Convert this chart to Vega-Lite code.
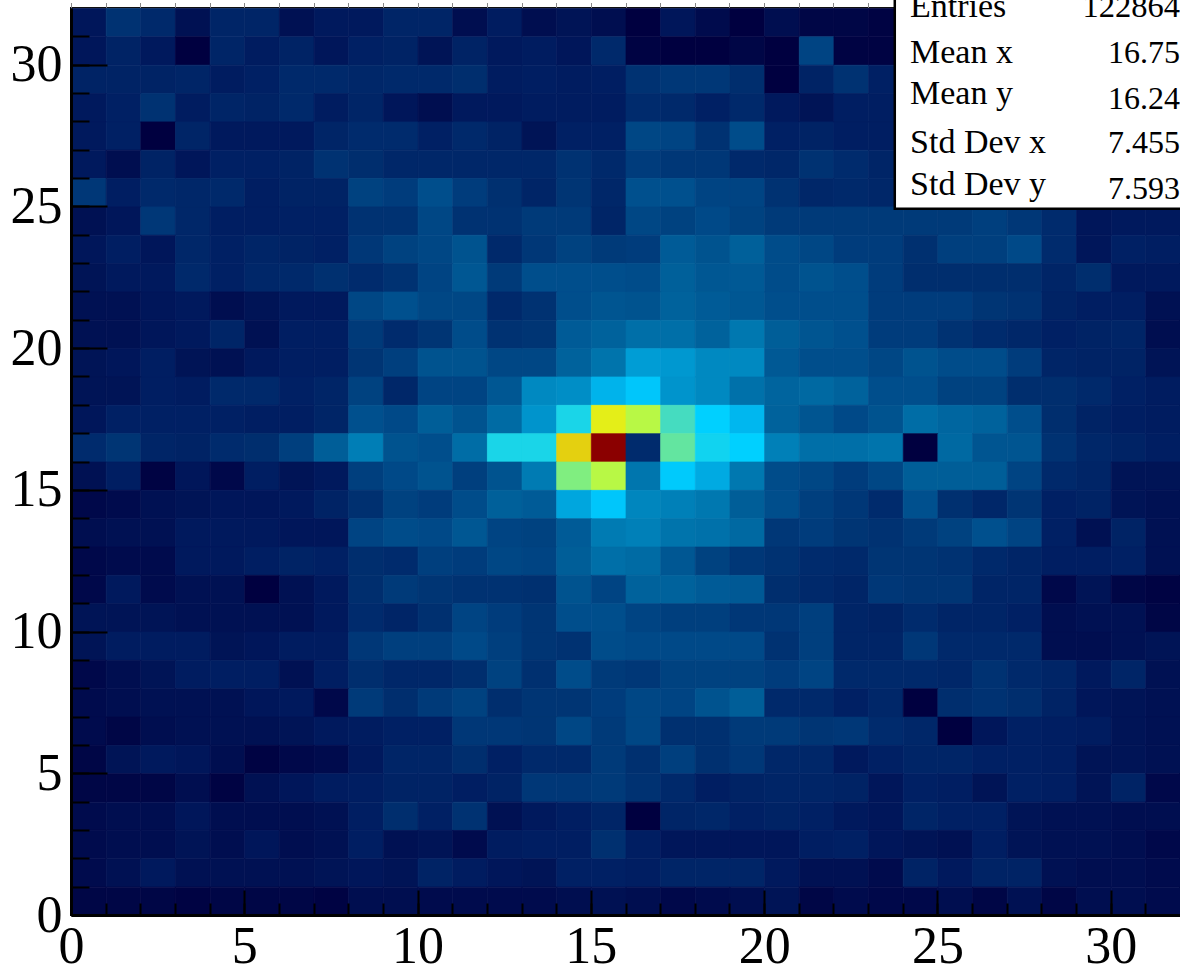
{"$schema":"https://vega.github.io/schema/vega-lite/v6.json","width":1109,"height":907,"autosize":{"type":"none"},"padding":{"left":71,"top":8,"right":0,"bottom":55},"background":"white","view":{"stroke":"#111","strokeWidth":2},
"datasets":{"cells":[
{"x":0,"y":31,"v":8},{"x":1,"y":31,"v":20},{"x":2,"y":31,"v":16},{"x":3,"y":31,"v":6},{"x":4,"y":31,"v":14},{"x":5,"y":31,"v":14},{"x":6,"y":31,"v":6},{"x":7,"y":31,"v":9},{"x":8,"y":31,"v":9},{"x":9,"y":31,"v":14},{"x":10,"y":31,"v":14},{"x":11,"y":31,"v":5},{"x":12,"y":31,"v":10},{"x":13,"y":31,"v":5},{"x":14,"y":31,"v":7},{"x":15,"y":31,"v":5},{"x":16,"y":31,"v":0},{"x":17,"y":31,"v":8},{"x":18,"y":31,"v":4},{"x":19,"y":31,"v":0},{"x":20,"y":31,"v":5},{"x":21,"y":31,"v":2},{"x":22,"y":31,"v":2},{"x":23,"y":31,"v":1},
{"x":0,"y":30,"v":8},{"x":1,"y":30,"v":13},{"x":2,"y":30,"v":9},{"x":3,"y":30,"v":0},{"x":4,"y":30,"v":14},{"x":5,"y":30,"v":10},{"x":6,"y":30,"v":13},{"x":7,"y":30,"v":8},{"x":8,"y":30,"v":12},{"x":9,"y":30,"v":13},{"x":10,"y":30,"v":7},{"x":11,"y":30,"v":13},{"x":12,"y":30,"v":9},{"x":13,"y":30,"v":10},{"x":14,"y":30,"v":8},{"x":15,"y":30,"v":16},{"x":16,"y":30,"v":1},{"x":17,"y":30,"v":0},{"x":18,"y":30,"v":0},{"x":19,"y":30,"v":2},{"x":20,"y":30,"v":0},{"x":21,"y":30,"v":27},{"x":22,"y":30,"v":1},{"x":23,"y":30,"v":1},
{"x":0,"y":29,"v":13},{"x":1,"y":29,"v":13},{"x":2,"y":29,"v":13},{"x":3,"y":29,"v":14},{"x":4,"y":29,"v":10},{"x":5,"y":29,"v":12},{"x":6,"y":29,"v":16},{"x":7,"y":29,"v":16},{"x":8,"y":29,"v":15},{"x":9,"y":29,"v":16},{"x":10,"y":29,"v":16},{"x":11,"y":29,"v":18},{"x":12,"y":29,"v":10},{"x":13,"y":29,"v":11},{"x":14,"y":29,"v":10},{"x":15,"y":29,"v":11},{"x":16,"y":29,"v":20},{"x":17,"y":29,"v":22},{"x":18,"y":29,"v":22},{"x":19,"y":29,"v":18},{"x":20,"y":29,"v":0},{"x":21,"y":29,"v":13},{"x":22,"y":29,"v":20},{"x":23,"y":29,"v":12},
{"x":0,"y":28,"v":9},{"x":1,"y":28,"v":12},{"x":2,"y":28,"v":20},{"x":3,"y":28,"v":10},{"x":4,"y":28,"v":14},{"x":5,"y":28,"v":13},{"x":6,"y":28,"v":16},{"x":7,"y":28,"v":10},{"x":8,"y":28,"v":14},{"x":9,"y":28,"v":8},{"x":10,"y":28,"v":5},{"x":11,"y":28,"v":9},{"x":12,"y":28,"v":9},{"x":13,"y":28,"v":10},{"x":14,"y":28,"v":10},{"x":15,"y":28,"v":10},{"x":16,"y":28,"v":17},{"x":17,"y":28,"v":16},{"x":18,"y":28,"v":12},{"x":19,"y":28,"v":16},{"x":20,"y":28,"v":9},{"x":21,"y":28,"v":7},{"x":22,"y":28,"v":11},{"x":23,"y":28,"v":11},
{"x":0,"y":27,"v":9},{"x":1,"y":27,"v":12},{"x":2,"y":27,"v":0},{"x":3,"y":27,"v":14},{"x":4,"y":27,"v":9},{"x":5,"y":27,"v":9},{"x":6,"y":27,"v":9},{"x":7,"y":27,"v":14},{"x":8,"y":27,"v":17},{"x":9,"y":27,"v":17},{"x":10,"y":27,"v":12},{"x":11,"y":27,"v":16},{"x":12,"y":27,"v":13},{"x":13,"y":27,"v":7},{"x":14,"y":27,"v":12},{"x":15,"y":27,"v":12},{"x":16,"y":27,"v":28},{"x":17,"y":27,"v":27},{"x":18,"y":27,"v":20},{"x":19,"y":27,"v":30},{"x":20,"y":27,"v":12},{"x":21,"y":27,"v":13},{"x":22,"y":27,"v":11},{"x":23,"y":27,"v":11},
{"x":0,"y":26,"v":9},{"x":1,"y":26,"v":5},{"x":2,"y":26,"v":13},{"x":3,"y":26,"v":8},{"x":4,"y":26,"v":12},{"x":5,"y":26,"v":12},{"x":6,"y":26,"v":13},{"x":7,"y":26,"v":20},{"x":8,"y":26,"v":18},{"x":9,"y":26,"v":15},{"x":10,"y":26,"v":15},{"x":11,"y":26,"v":15},{"x":12,"y":26,"v":15},{"x":13,"y":26,"v":15},{"x":14,"y":26,"v":20},{"x":15,"y":26,"v":16},{"x":16,"y":26,"v":24},{"x":17,"y":26,"v":22},{"x":18,"y":26,"v":22},{"x":19,"y":26,"v":16},{"x":20,"y":26,"v":15},{"x":21,"y":26,"v":20},{"x":22,"y":26,"v":17},{"x":23,"y":26,"v":14},
{"x":0,"y":25,"v":22},{"x":1,"y":25,"v":11},{"x":2,"y":25,"v":16},{"x":3,"y":25,"v":15},{"x":4,"y":25,"v":16},{"x":5,"y":25,"v":11},{"x":6,"y":25,"v":13},{"x":7,"y":25,"v":13},{"x":8,"y":25,"v":26},{"x":9,"y":25,"v":24},{"x":10,"y":25,"v":31},{"x":11,"y":25,"v":24},{"x":12,"y":25,"v":19},{"x":13,"y":25,"v":14},{"x":14,"y":25,"v":21},{"x":15,"y":25,"v":15},{"x":16,"y":25,"v":32},{"x":17,"y":25,"v":32},{"x":18,"y":25,"v":27},{"x":19,"y":25,"v":27},{"x":20,"y":25,"v":20},{"x":21,"y":25,"v":15},{"x":22,"y":25,"v":16},{"x":23,"y":25,"v":15},
{"x":0,"y":24,"v":6},{"x":1,"y":24,"v":8},{"x":2,"y":24,"v":22},{"x":3,"y":24,"v":15},{"x":4,"y":24,"v":11},{"x":5,"y":24,"v":11},{"x":6,"y":24,"v":12},{"x":7,"y":24,"v":12},{"x":8,"y":24,"v":20},{"x":9,"y":24,"v":20},{"x":10,"y":24,"v":28},{"x":11,"y":24,"v":20},{"x":12,"y":24,"v":20},{"x":13,"y":24,"v":23},{"x":14,"y":24,"v":23},{"x":15,"y":24,"v":14},{"x":16,"y":24,"v":28},{"x":17,"y":24,"v":26},{"x":18,"y":24,"v":29},{"x":19,"y":24,"v":26},{"x":20,"y":24,"v":23},{"x":21,"y":24,"v":23},{"x":22,"y":24,"v":23},{"x":23,"y":24,"v":23},{"x":24,"y":24,"v":23},{"x":25,"y":24,"v":23},{"x":26,"y":24,"v":25},{"x":27,"y":24,"v":22},{"x":28,"y":24,"v":17},{"x":29,"y":24,"v":8},{"x":30,"y":24,"v":9},{"x":31,"y":24,"v":9},
{"x":0,"y":23,"v":8},{"x":1,"y":23,"v":11},{"x":2,"y":23,"v":8},{"x":3,"y":23,"v":15},{"x":4,"y":23,"v":12},{"x":5,"y":23,"v":14},{"x":6,"y":23,"v":13},{"x":7,"y":23,"v":12},{"x":8,"y":23,"v":22},{"x":9,"y":23,"v":26},{"x":10,"y":23,"v":28},{"x":11,"y":23,"v":33},{"x":12,"y":23,"v":16},{"x":13,"y":23,"v":22},{"x":14,"y":23,"v":26},{"x":15,"y":23,"v":23},{"x":16,"y":23,"v":24},{"x":17,"y":23,"v":37},{"x":18,"y":23,"v":33},{"x":19,"y":23,"v":39},{"x":20,"y":23,"v":30},{"x":21,"y":23,"v":28},{"x":22,"y":23,"v":24},{"x":23,"y":23,"v":24},{"x":24,"y":23,"v":19},{"x":25,"y":23,"v":25},{"x":26,"y":23,"v":25},{"x":27,"y":23,"v":29},{"x":28,"y":23,"v":17},{"x":29,"y":23,"v":8},{"x":30,"y":23,"v":12},{"x":31,"y":23,"v":11},
{"x":0,"y":22,"v":7},{"x":1,"y":22,"v":9},{"x":2,"y":22,"v":9},{"x":3,"y":22,"v":16},{"x":4,"y":22,"v":12},{"x":5,"y":22,"v":15},{"x":6,"y":22,"v":16},{"x":7,"y":22,"v":19},{"x":8,"y":22,"v":17},{"x":9,"y":22,"v":20},{"x":10,"y":22,"v":27},{"x":11,"y":22,"v":35},{"x":12,"y":22,"v":23},{"x":13,"y":22,"v":31},{"x":14,"y":22,"v":31},{"x":15,"y":22,"v":31},{"x":16,"y":22,"v":30},{"x":17,"y":22,"v":39},{"x":18,"y":22,"v":35},{"x":19,"y":22,"v":36},{"x":20,"y":22,"v":30},{"x":21,"y":22,"v":33},{"x":22,"y":22,"v":31},{"x":23,"y":22,"v":24},{"x":24,"y":22,"v":18},{"x":25,"y":22,"v":18},{"x":26,"y":22,"v":18},{"x":27,"y":22,"v":18},{"x":28,"y":22,"v":14},{"x":29,"y":22,"v":18},{"x":30,"y":22,"v":9},{"x":31,"y":22,"v":9},
{"x":0,"y":21,"v":6},{"x":1,"y":21,"v":6},{"x":2,"y":21,"v":8},{"x":3,"y":21,"v":9},{"x":4,"y":21,"v":5},{"x":5,"y":21,"v":7},{"x":6,"y":21,"v":9},{"x":7,"y":21,"v":9},{"x":8,"y":21,"v":28},{"x":9,"y":21,"v":32},{"x":10,"y":21,"v":28},{"x":11,"y":21,"v":28},{"x":12,"y":21,"v":16},{"x":13,"y":21,"v":20},{"x":14,"y":21,"v":31},{"x":15,"y":21,"v":34},{"x":16,"y":21,"v":33},{"x":17,"y":21,"v":40},{"x":18,"y":21,"v":37},{"x":19,"y":21,"v":35},{"x":20,"y":21,"v":31},{"x":21,"y":21,"v":31},{"x":22,"y":21,"v":31},{"x":23,"y":21,"v":24},{"x":24,"y":21,"v":24},{"x":25,"y":21,"v":24},{"x":26,"y":21,"v":21},{"x":27,"y":21,"v":20},{"x":28,"y":21,"v":13},{"x":29,"y":21,"v":11},{"x":30,"y":21,"v":11},{"x":31,"y":21,"v":6},
{"x":0,"y":20,"v":6},{"x":1,"y":20,"v":6},{"x":2,"y":20,"v":8},{"x":3,"y":20,"v":9},{"x":4,"y":20,"v":14},{"x":5,"y":20,"v":6},{"x":6,"y":20,"v":11},{"x":7,"y":20,"v":11},{"x":8,"y":20,"v":23},{"x":9,"y":20,"v":17},{"x":10,"y":20,"v":21},{"x":11,"y":20,"v":30},{"x":12,"y":20,"v":20},{"x":13,"y":20,"v":21},{"x":14,"y":20,"v":37},{"x":15,"y":20,"v":40},{"x":16,"y":20,"v":46},{"x":17,"y":20,"v":46},{"x":18,"y":20,"v":40},{"x":19,"y":20,"v":50},{"x":20,"y":20,"v":38},{"x":21,"y":20,"v":34},{"x":22,"y":20,"v":32},{"x":23,"y":20,"v":24},{"x":24,"y":20,"v":24},{"x":25,"y":20,"v":20},{"x":26,"y":20,"v":17},{"x":27,"y":20,"v":15},{"x":28,"y":20,"v":12},{"x":29,"y":20,"v":13},{"x":30,"y":20,"v":14},{"x":31,"y":20,"v":5},
{"x":0,"y":19,"v":7},{"x":1,"y":19,"v":8},{"x":2,"y":19,"v":11},{"x":3,"y":19,"v":7},{"x":4,"y":19,"v":6},{"x":5,"y":19,"v":9},{"x":6,"y":19,"v":11},{"x":7,"y":19,"v":11},{"x":8,"y":19,"v":21},{"x":9,"y":19,"v":25},{"x":10,"y":19,"v":33},{"x":11,"y":19,"v":33},{"x":12,"y":19,"v":28},{"x":13,"y":19,"v":28},{"x":14,"y":19,"v":40},{"x":15,"y":19,"v":48},{"x":16,"y":19,"v":62},{"x":17,"y":19,"v":61},{"x":18,"y":19,"v":56},{"x":19,"y":19,"v":56},{"x":20,"y":19,"v":36},{"x":21,"y":19,"v":31},{"x":22,"y":19,"v":31},{"x":23,"y":19,"v":28},{"x":24,"y":19,"v":33},{"x":25,"y":19,"v":30},{"x":26,"y":19,"v":30},{"x":27,"y":19,"v":24},{"x":28,"y":19,"v":14},{"x":29,"y":19,"v":13},{"x":30,"y":19,"v":13},{"x":31,"y":19,"v":7},
{"x":0,"y":18,"v":7},{"x":1,"y":18,"v":7},{"x":2,"y":18,"v":11},{"x":3,"y":18,"v":10},{"x":4,"y":18,"v":16},{"x":5,"y":18,"v":16},{"x":6,"y":18,"v":12},{"x":7,"y":18,"v":14},{"x":8,"y":18,"v":26},{"x":9,"y":18,"v":15},{"x":10,"y":18,"v":27},{"x":11,"y":18,"v":27},{"x":12,"y":18,"v":35},{"x":13,"y":18,"v":56},{"x":14,"y":18,"v":58},{"x":15,"y":18,"v":67},{"x":16,"y":18,"v":72},{"x":17,"y":18,"v":60},{"x":18,"y":18,"v":56},{"x":19,"y":18,"v":47},{"x":20,"y":18,"v":41},{"x":21,"y":18,"v":43},{"x":22,"y":18,"v":40},{"x":23,"y":18,"v":31},{"x":24,"y":18,"v":31},{"x":25,"y":18,"v":26},{"x":26,"y":18,"v":26},{"x":27,"y":18,"v":18},{"x":28,"y":18,"v":18},{"x":29,"y":18,"v":16},{"x":30,"y":18,"v":12},{"x":31,"y":18,"v":10},
{"x":0,"y":17,"v":8},{"x":1,"y":17,"v":12},{"x":2,"y":17,"v":12},{"x":3,"y":17,"v":12},{"x":4,"y":17,"v":12},{"x":5,"y":17,"v":11},{"x":6,"y":17,"v":11},{"x":7,"y":17,"v":14},{"x":8,"y":17,"v":32},{"x":9,"y":17,"v":29},{"x":10,"y":17,"v":38},{"x":11,"y":17,"v":33},{"x":12,"y":17,"v":44},{"x":13,"y":17,"v":60},{"x":14,"y":17,"v":78},{"x":15,"y":17,"v":93},{"x":16,"y":17,"v":90},{"x":17,"y":17,"v":82},{"x":18,"y":17,"v":75},{"x":19,"y":17,"v":68},{"x":20,"y":17,"v":40},{"x":21,"y":17,"v":34},{"x":22,"y":17,"v":29},{"x":23,"y":17,"v":33},{"x":24,"y":17,"v":45},{"x":25,"y":17,"v":42},{"x":26,"y":17,"v":40},{"x":27,"y":17,"v":31},{"x":28,"y":17,"v":18},{"x":29,"y":17,"v":13},{"x":30,"y":17,"v":11},{"x":31,"y":17,"v":10},
{"x":0,"y":16,"v":17},{"x":1,"y":16,"v":21},{"x":2,"y":16,"v":14},{"x":3,"y":16,"v":13},{"x":4,"y":16,"v":17},{"x":5,"y":16,"v":18},{"x":6,"y":16,"v":25},{"x":7,"y":16,"v":38},{"x":8,"y":16,"v":52},{"x":9,"y":16,"v":33},{"x":10,"y":16,"v":31},{"x":11,"y":16,"v":45},{"x":12,"y":16,"v":78},{"x":13,"y":16,"v":78},{"x":14,"y":16,"v":95},{"x":15,"y":16,"v":100},{"x":16,"y":16,"v":17},{"x":17,"y":16,"v":84},{"x":18,"y":16,"v":77},{"x":19,"y":16,"v":75},{"x":20,"y":16,"v":53},{"x":21,"y":16,"v":46},{"x":22,"y":16,"v":46},{"x":23,"y":16,"v":48},{"x":24,"y":16,"v":0},{"x":25,"y":16,"v":43},{"x":26,"y":16,"v":34},{"x":27,"y":16,"v":34},{"x":28,"y":16,"v":20},{"x":29,"y":16,"v":15},{"x":30,"y":16,"v":13},{"x":31,"y":16,"v":11},
{"x":0,"y":15,"v":6},{"x":1,"y":15,"v":11},{"x":2,"y":15,"v":1},{"x":3,"y":15,"v":8},{"x":4,"y":15,"v":3},{"x":5,"y":15,"v":11},{"x":6,"y":15,"v":7},{"x":7,"y":15,"v":9},{"x":8,"y":15,"v":25},{"x":9,"y":15,"v":29},{"x":10,"y":15,"v":33},{"x":11,"y":15,"v":25},{"x":12,"y":15,"v":33},{"x":13,"y":15,"v":51},{"x":14,"y":15,"v":86},{"x":15,"y":15,"v":90},{"x":16,"y":15,"v":49},{"x":17,"y":15,"v":73},{"x":18,"y":15,"v":65},{"x":19,"y":15,"v":50},{"x":20,"y":15,"v":30},{"x":21,"y":15,"v":28},{"x":22,"y":15,"v":24},{"x":23,"y":15,"v":28},{"x":24,"y":15,"v":38},{"x":25,"y":15,"v":38},{"x":26,"y":15,"v":38},{"x":27,"y":15,"v":27},{"x":28,"y":15,"v":16},{"x":29,"y":15,"v":14},{"x":30,"y":15,"v":7},{"x":31,"y":15,"v":7},
{"x":0,"y":14,"v":3},{"x":1,"y":14,"v":4},{"x":2,"y":14,"v":6},{"x":3,"y":14,"v":7},{"x":4,"y":14,"v":8},{"x":5,"y":14,"v":8},{"x":6,"y":14,"v":9},{"x":7,"y":14,"v":13},{"x":8,"y":14,"v":19},{"x":9,"y":14,"v":26},{"x":10,"y":14,"v":24},{"x":11,"y":14,"v":30},{"x":12,"y":14,"v":39},{"x":13,"y":14,"v":37},{"x":14,"y":14,"v":64},{"x":15,"y":14,"v":72},{"x":16,"y":14,"v":55},{"x":17,"y":14,"v":53},{"x":18,"y":14,"v":50},{"x":19,"y":14,"v":38},{"x":20,"y":14,"v":31},{"x":21,"y":14,"v":25},{"x":22,"y":14,"v":22},{"x":23,"y":14,"v":17},{"x":24,"y":14,"v":32},{"x":25,"y":14,"v":19},{"x":26,"y":14,"v":15},{"x":27,"y":14,"v":21},{"x":28,"y":14,"v":12},{"x":29,"y":14,"v":13},{"x":30,"y":14,"v":7},{"x":31,"y":14,"v":6},
{"x":0,"y":13,"v":5},{"x":1,"y":13,"v":6},{"x":2,"y":13,"v":6},{"x":3,"y":13,"v":9},{"x":4,"y":13,"v":9},{"x":5,"y":13,"v":9},{"x":6,"y":13,"v":8},{"x":7,"y":13,"v":8},{"x":8,"y":13,"v":27},{"x":9,"y":13,"v":30},{"x":10,"y":13,"v":29},{"x":11,"y":13,"v":35},{"x":12,"y":13,"v":27},{"x":13,"y":13,"v":26},{"x":14,"y":13,"v":37},{"x":15,"y":13,"v":51},{"x":16,"y":13,"v":53},{"x":17,"y":13,"v":48},{"x":18,"y":13,"v":47},{"x":19,"y":13,"v":43},{"x":20,"y":13,"v":22},{"x":21,"y":13,"v":24},{"x":22,"y":13,"v":21},{"x":23,"y":13,"v":20},{"x":24,"y":13,"v":23},{"x":25,"y":13,"v":26},{"x":26,"y":13,"v":32},{"x":27,"y":13,"v":27},{"x":28,"y":13,"v":12},{"x":29,"y":13,"v":6},{"x":30,"y":13,"v":13},{"x":31,"y":13,"v":6},
{"x":0,"y":12,"v":3},{"x":1,"y":12,"v":4},{"x":2,"y":12,"v":4},{"x":3,"y":12,"v":9},{"x":4,"y":12,"v":9},{"x":5,"y":12,"v":11},{"x":6,"y":12,"v":13},{"x":7,"y":12,"v":12},{"x":8,"y":12,"v":18},{"x":9,"y":12,"v":17},{"x":10,"y":12,"v":25},{"x":11,"y":12,"v":24},{"x":12,"y":12,"v":28},{"x":13,"y":12,"v":27},{"x":14,"y":12,"v":38},{"x":15,"y":12,"v":46},{"x":16,"y":12,"v":44},{"x":17,"y":12,"v":35},{"x":18,"y":12,"v":26},{"x":19,"y":12,"v":22},{"x":20,"y":12,"v":20},{"x":21,"y":12,"v":17},{"x":22,"y":12,"v":16},{"x":23,"y":12,"v":21},{"x":24,"y":12,"v":21},{"x":25,"y":12,"v":20},{"x":26,"y":12,"v":16},{"x":27,"y":12,"v":14},{"x":28,"y":12,"v":11},{"x":29,"y":12,"v":11},{"x":30,"y":12,"v":12},{"x":31,"y":12,"v":6},
{"x":0,"y":11,"v":3},{"x":1,"y":11,"v":9},{"x":2,"y":11,"v":4},{"x":3,"y":11,"v":6},{"x":4,"y":11,"v":6},{"x":5,"y":11,"v":0},{"x":6,"y":11,"v":6},{"x":7,"y":11,"v":9},{"x":8,"y":11,"v":18},{"x":9,"y":11,"v":23},{"x":10,"y":11,"v":21},{"x":11,"y":11,"v":20},{"x":12,"y":11,"v":20},{"x":13,"y":11,"v":19},{"x":14,"y":11,"v":33},{"x":15,"y":11,"v":27},{"x":16,"y":11,"v":40},{"x":17,"y":11,"v":40},{"x":18,"y":11,"v":37},{"x":19,"y":11,"v":36},{"x":20,"y":11,"v":18},{"x":21,"y":11,"v":16},{"x":22,"y":11,"v":14},{"x":23,"y":11,"v":22},{"x":24,"y":11,"v":21},{"x":25,"y":11,"v":21},{"x":26,"y":11,"v":14},{"x":27,"y":11,"v":14},{"x":28,"y":11,"v":3},{"x":29,"y":11,"v":7},{"x":30,"y":11,"v":2},{"x":31,"y":11,"v":1},
{"x":0,"y":10,"v":7},{"x":1,"y":10,"v":7},{"x":2,"y":10,"v":7},{"x":3,"y":10,"v":6},{"x":4,"y":10,"v":6},{"x":5,"y":10,"v":6},{"x":6,"y":10,"v":6},{"x":7,"y":10,"v":9},{"x":8,"y":10,"v":17},{"x":9,"y":10,"v":14},{"x":10,"y":10,"v":19},{"x":11,"y":10,"v":27},{"x":12,"y":10,"v":24},{"x":13,"y":10,"v":21},{"x":14,"y":10,"v":31},{"x":15,"y":10,"v":31},{"x":16,"y":10,"v":27},{"x":17,"y":10,"v":25},{"x":18,"y":10,"v":25},{"x":19,"y":10,"v":22},{"x":20,"y":10,"v":22},{"x":21,"y":10,"v":25},{"x":22,"y":10,"v":14},{"x":23,"y":10,"v":13},{"x":24,"y":10,"v":17},{"x":25,"y":10,"v":14},{"x":26,"y":10,"v":14},{"x":27,"y":10,"v":12},{"x":28,"y":10,"v":5},{"x":29,"y":10,"v":6},{"x":30,"y":10,"v":6},{"x":31,"y":10,"v":2},
{"x":0,"y":9,"v":7},{"x":1,"y":9,"v":10},{"x":2,"y":9,"v":10},{"x":3,"y":9,"v":10},{"x":4,"y":9,"v":7},{"x":5,"y":9,"v":8},{"x":6,"y":9,"v":10},{"x":7,"y":9,"v":10},{"x":8,"y":9,"v":22},{"x":9,"y":9,"v":25},{"x":10,"y":9,"v":25},{"x":11,"y":9,"v":29},{"x":12,"y":9,"v":25},{"x":13,"y":9,"v":21},{"x":14,"y":9,"v":20},{"x":15,"y":9,"v":30},{"x":16,"y":9,"v":29},{"x":17,"y":9,"v":29},{"x":18,"y":9,"v":29},{"x":19,"y":9,"v":29},{"x":20,"y":9,"v":20},{"x":21,"y":9,"v":25},{"x":22,"y":9,"v":14},{"x":23,"y":9,"v":14},{"x":24,"y":9,"v":22},{"x":25,"y":9,"v":16},{"x":26,"y":9,"v":16},{"x":27,"y":9,"v":16},{"x":28,"y":9,"v":5},{"x":29,"y":9,"v":5},{"x":30,"y":9,"v":6},{"x":31,"y":9,"v":7},
{"x":0,"y":8,"v":3},{"x":1,"y":8,"v":5},{"x":2,"y":8,"v":7},{"x":3,"y":8,"v":10},{"x":4,"y":8,"v":11},{"x":5,"y":8,"v":11},{"x":6,"y":8,"v":6},{"x":7,"y":8,"v":11},{"x":8,"y":8,"v":18},{"x":9,"y":8,"v":15},{"x":10,"y":8,"v":15},{"x":11,"y":8,"v":18},{"x":12,"y":8,"v":26},{"x":13,"y":8,"v":19},{"x":14,"y":8,"v":30},{"x":15,"y":8,"v":23},{"x":16,"y":8,"v":22},{"x":17,"y":8,"v":26},{"x":18,"y":8,"v":26},{"x":19,"y":8,"v":26},{"x":20,"y":8,"v":24},{"x":21,"y":8,"v":27},{"x":22,"y":8,"v":16},{"x":23,"y":8,"v":16},{"x":24,"y":8,"v":16},{"x":25,"y":8,"v":15},{"x":26,"y":8,"v":20},{"x":27,"y":8,"v":16},{"x":28,"y":8,"v":14},{"x":29,"y":8,"v":9},{"x":30,"y":8,"v":14},{"x":31,"y":8,"v":6},
{"x":0,"y":7,"v":4},{"x":1,"y":7,"v":5},{"x":2,"y":7,"v":6},{"x":3,"y":7,"v":6},{"x":4,"y":7,"v":6},{"x":5,"y":7,"v":8},{"x":6,"y":7,"v":9},{"x":7,"y":7,"v":3},{"x":8,"y":7,"v":23},{"x":9,"y":7,"v":18},{"x":10,"y":7,"v":23},{"x":11,"y":7,"v":26},{"x":12,"y":7,"v":18},{"x":13,"y":7,"v":21},{"x":14,"y":7,"v":21},{"x":15,"y":7,"v":24},{"x":16,"y":7,"v":28},{"x":17,"y":7,"v":27},{"x":18,"y":7,"v":33},{"x":19,"y":7,"v":38},{"x":20,"y":7,"v":16},{"x":21,"y":7,"v":16},{"x":22,"y":7,"v":12},{"x":23,"y":7,"v":15},{"x":24,"y":7,"v":0},{"x":25,"y":7,"v":18},{"x":26,"y":7,"v":20},{"x":27,"y":7,"v":18},{"x":28,"y":7,"v":13},{"x":29,"y":7,"v":8},{"x":30,"y":7,"v":7},{"x":31,"y":7,"v":6},
{"x":0,"y":6,"v":4},{"x":1,"y":6,"v":2},{"x":2,"y":6,"v":5},{"x":3,"y":6,"v":6},{"x":4,"y":6,"v":6},{"x":5,"y":6,"v":6},{"x":6,"y":6,"v":7},{"x":7,"y":6,"v":9},{"x":8,"y":6,"v":10},{"x":9,"y":6,"v":12},{"x":10,"y":6,"v":12},{"x":11,"y":6,"v":22},{"x":12,"y":6,"v":22},{"x":13,"y":6,"v":21},{"x":14,"y":6,"v":28},{"x":15,"y":6,"v":23},{"x":16,"y":6,"v":28},{"x":17,"y":6,"v":19},{"x":18,"y":6,"v":19},{"x":19,"y":6,"v":23},{"x":20,"y":6,"v":23},{"x":21,"y":6,"v":21},{"x":22,"y":6,"v":22},{"x":23,"y":6,"v":17},{"x":24,"y":6,"v":15},{"x":25,"y":6,"v":0},{"x":26,"y":6,"v":8},{"x":27,"y":6,"v":12},{"x":28,"y":6,"v":11},{"x":29,"y":6,"v":10},{"x":30,"y":6,"v":7},{"x":31,"y":6,"v":6},
{"x":0,"y":5,"v":2},{"x":1,"y":5,"v":7},{"x":2,"y":5,"v":9},{"x":3,"y":5,"v":8},{"x":4,"y":5,"v":5},{"x":5,"y":5,"v":1},{"x":6,"y":5,"v":3},{"x":7,"y":5,"v":4},{"x":8,"y":5,"v":9},{"x":9,"y":5,"v":14},{"x":10,"y":5,"v":14},{"x":11,"y":5,"v":18},{"x":12,"y":5,"v":12},{"x":13,"y":5,"v":16},{"x":14,"y":5,"v":16},{"x":15,"y":5,"v":23},{"x":16,"y":5,"v":19},{"x":17,"y":5,"v":25},{"x":18,"y":5,"v":19},{"x":19,"y":5,"v":22},{"x":20,"y":5,"v":15},{"x":21,"y":5,"v":15},{"x":22,"y":5,"v":9},{"x":23,"y":5,"v":12},{"x":24,"y":5,"v":14},{"x":25,"y":5,"v":14},{"x":26,"y":5,"v":12},{"x":27,"y":5,"v":12},{"x":28,"y":5,"v":11},{"x":29,"y":5,"v":7},{"x":30,"y":5,"v":7},{"x":31,"y":5,"v":6},
{"x":0,"y":4,"v":2},{"x":1,"y":4,"v":2},{"x":2,"y":4,"v":2},{"x":3,"y":4,"v":5},{"x":4,"y":4,"v":1},{"x":5,"y":4,"v":6},{"x":6,"y":4,"v":8},{"x":7,"y":4,"v":10},{"x":8,"y":4,"v":11},{"x":9,"y":4,"v":13},{"x":10,"y":4,"v":13},{"x":11,"y":4,"v":11},{"x":12,"y":4,"v":13},{"x":13,"y":4,"v":22},{"x":14,"y":4,"v":22},{"x":15,"y":4,"v":23},{"x":16,"y":4,"v":20},{"x":17,"y":4,"v":16},{"x":18,"y":4,"v":11},{"x":19,"y":4,"v":13},{"x":20,"y":4,"v":14},{"x":21,"y":4,"v":14},{"x":22,"y":4,"v":13},{"x":23,"y":4,"v":8},{"x":24,"y":4,"v":12},{"x":25,"y":4,"v":11},{"x":26,"y":4,"v":7},{"x":27,"y":4,"v":12},{"x":28,"y":4,"v":11},{"x":29,"y":4,"v":7},{"x":30,"y":4,"v":13},{"x":31,"y":4,"v":3},
{"x":0,"y":3,"v":4},{"x":1,"y":3,"v":5},{"x":2,"y":3,"v":5},{"x":3,"y":3,"v":8},{"x":4,"y":3,"v":5},{"x":5,"y":3,"v":5},{"x":6,"y":3,"v":5},{"x":7,"y":3,"v":6},{"x":8,"y":3,"v":11},{"x":9,"y":3,"v":18},{"x":10,"y":3,"v":12},{"x":11,"y":3,"v":20},{"x":12,"y":3,"v":6},{"x":13,"y":3,"v":9},{"x":14,"y":3,"v":11},{"x":15,"y":3,"v":14},{"x":16,"y":3,"v":0},{"x":17,"y":3,"v":14},{"x":18,"y":3,"v":15},{"x":19,"y":3,"v":12},{"x":20,"y":3,"v":13},{"x":21,"y":3,"v":12},{"x":22,"y":3,"v":9},{"x":23,"y":3,"v":8},{"x":24,"y":3,"v":14},{"x":25,"y":3,"v":12},{"x":26,"y":3,"v":12},{"x":27,"y":3,"v":7},{"x":28,"y":3,"v":6},{"x":29,"y":3,"v":6},{"x":30,"y":3,"v":5},{"x":31,"y":3,"v":5},
{"x":0,"y":2,"v":4},{"x":1,"y":2,"v":5},{"x":2,"y":2,"v":5},{"x":3,"y":2,"v":7},{"x":4,"y":2,"v":5},{"x":5,"y":2,"v":8},{"x":6,"y":2,"v":5},{"x":7,"y":2,"v":6},{"x":8,"y":2,"v":11},{"x":9,"y":2,"v":6},{"x":10,"y":2,"v":7},{"x":11,"y":2,"v":4},{"x":12,"y":2,"v":10},{"x":13,"y":2,"v":11},{"x":14,"y":2,"v":11},{"x":15,"y":2,"v":19},{"x":16,"y":2,"v":11},{"x":17,"y":2,"v":8},{"x":18,"y":2,"v":8},{"x":19,"y":2,"v":8},{"x":20,"y":2,"v":8},{"x":21,"y":2,"v":11},{"x":22,"y":2,"v":12},{"x":23,"y":2,"v":8},{"x":24,"y":2,"v":7},{"x":25,"y":2,"v":6},{"x":26,"y":2,"v":11},{"x":27,"y":2,"v":7},{"x":28,"y":2,"v":6},{"x":29,"y":2,"v":6},{"x":30,"y":2,"v":5},{"x":31,"y":2,"v":3},
{"x":0,"y":1,"v":4},{"x":1,"y":1,"v":6},{"x":2,"y":1,"v":9},{"x":3,"y":1,"v":6},{"x":4,"y":1,"v":6},{"x":5,"y":1,"v":6},{"x":6,"y":1,"v":6},{"x":7,"y":1,"v":7},{"x":8,"y":1,"v":8},{"x":9,"y":1,"v":7},{"x":10,"y":1,"v":13},{"x":11,"y":1,"v":10},{"x":12,"y":1,"v":8},{"x":13,"y":1,"v":7},{"x":14,"y":1,"v":12},{"x":15,"y":1,"v":12},{"x":16,"y":1,"v":11},{"x":17,"y":1,"v":14},{"x":18,"y":1,"v":14},{"x":19,"y":1,"v":14},{"x":20,"y":1,"v":9},{"x":21,"y":1,"v":6},{"x":22,"y":1,"v":6},{"x":23,"y":1,"v":4},{"x":24,"y":1,"v":13},{"x":25,"y":1,"v":9},{"x":26,"y":1,"v":13},{"x":27,"y":1,"v":13},{"x":28,"y":1,"v":6},{"x":29,"y":1,"v":5},{"x":30,"y":1,"v":5},{"x":31,"y":1,"v":4},
{"x":0,"y":0,"v":2},{"x":1,"y":0,"v":2},{"x":2,"y":0,"v":2},{"x":3,"y":0,"v":1},{"x":4,"y":0,"v":2},{"x":5,"y":0,"v":2},{"x":6,"y":0,"v":2},{"x":7,"y":0,"v":1},{"x":8,"y":0,"v":5},{"x":9,"y":0,"v":5},{"x":10,"y":0,"v":4},{"x":11,"y":0,"v":4},{"x":12,"y":0,"v":4},{"x":13,"y":0,"v":4},{"x":14,"y":0,"v":5},{"x":15,"y":0,"v":6},{"x":16,"y":0,"v":5},{"x":17,"y":0,"v":3},{"x":18,"y":0,"v":4},{"x":19,"y":0,"v":5},{"x":20,"y":0,"v":7},{"x":21,"y":0,"v":2},{"x":22,"y":0,"v":4},{"x":23,"y":0,"v":3},{"x":24,"y":0,"v":3},{"x":25,"y":0,"v":5},{"x":26,"y":0,"v":2},{"x":27,"y":0,"v":6},{"x":28,"y":0,"v":2},{"x":29,"y":0,"v":5},{"x":30,"y":0,"v":5},{"x":31,"y":0,"v":4}
]},
"layer":[
{"data":{"name":"cells"},"mark":{"type":"rect","strokeWidth":0.7,"aria":false},
"encoding":{
"x":{"field":"x","bin":{"step":1,"extent":[0,32]},"type":"quantitative","title":null,"scale":{"domain":[0,32],"nice":false,"zero":false},"axis":{"orient":"bottom","values":[0,5,10,15,20,25,30],"tickSize":-25,"tickWidth":2,"tickColor":"#000","domainColor":"#000","domainWidth":3,"labelFont":"Liberation Serif","labelFontSize":52,"labelColor":"#000","labelPadding":31,"labelAngle":0,"labelOverlap":false,"labelFlush":false,"grid":false,"zindex":2,"format":"d","aria":false}},
"y":{"field":"y","bin":{"step":1,"extent":[0,32]},"type":"quantitative","title":null,"scale":{"domain":[0,32],"nice":false,"zero":false},"axis":{"orient":"left","values":[0,5,10,15,20,25,30],"tickSize":-36,"tickWidth":2,"tickColor":"#000","domainColor":"#000","domainWidth":3,"labelFont":"Liberation Serif","labelFontSize":52,"labelColor":"#000","labelPadding":45,"labelOverlap":false,"labelFlush":false,"grid":false,"zindex":2,"format":"d","aria":false}},
"color":{"field":"v","type":"quantitative","legend":null,"scale":{"domain":[0,10,20,30,40,50,60,70,75,78,82,86,90,93,95,100],"range":["#000040","#001c60","#003272","#004c8a","#00629c","#0078b0","#0094cc","#00c0f8","#00d0ff","#1ad5e8","#45dcc0","#80ee80","#b8f845","#e4ee18","#e4d010","#8b0000"],"interpolate":"rgb"}},
"stroke":{"field":"v","type":"quantitative","legend":null,"scale":{"domain":[0,10,20,30,40,50,60,70,75,78,82,86,90,93,95,100],"range":["#000040","#001c60","#003272","#004c8a","#00629c","#0078b0","#0094cc","#00c0f8","#00d0ff","#1ad5e8","#45dcc0","#80ee80","#b8f845","#e4ee18","#e4d010","#8b0000"],"interpolate":"rgb"}}
}},
{"data":{"values":[{"name":"stats box"}]},"mark":{"type":"rect","fill":"white","stroke":"#000","strokeWidth":2.5,"clip":false,"aria":false},
"encoding":{
"x":{"datum":23.77,"type":"quantitative","axis":{"orient":"bottom","values":[0,1,2,3,4,5,6,7,8,9,10,11,12,13,14,15,16,17,18,19,20,21,22,23,24,25,26,27,28,29,30,31],"tickSize":-12,"tickWidth":2,"tickColor":"#000","labels":false,"domain":false,"grid":false,"title":null,"zindex":2,"aria":false}},
"x2":{"datum":33},
"y":{"datum":24.92,"type":"quantitative","axis":{"orient":"left","values":[0,1,2,3,4,5,6,7,8,9,10,11,12,13,14,15,16,17,18,19,20,21,22,23,24,25,26,27,28,29,30,31],"tickSize":-18,"tickWidth":2,"tickColor":"#000","labels":false,"domain":false,"grid":false,"title":null,"zindex":2,"aria":false}},
"y2":{"datum":33}
}},
{"data":{"values":[{"name":"Entries"}]},"mark":{"type":"text","text":"Entries","font":"Liberation Serif","fontSize":34,"align":"left","baseline":"alphabetic","color":"#000"},"encoding":{"x":{"datum":24.21,"type":"quantitative"},"y":{"datum":31.7,"type":"quantitative"}}},
{"data":{"values":[{"name":"Entries"}]},"mark":{"type":"text","text":"122864","font":"Liberation Serif","fontSize":32.5,"align":"right","baseline":"alphabetic","color":"#000"},"encoding":{"x":{"datum":32,"type":"quantitative"},"y":{"datum":31.7,"type":"quantitative"}}},
{"data":{"values":[{"name":"Mean x"}]},"mark":{"type":"text","text":"Mean x","font":"Liberation Serif","fontSize":34,"align":"left","baseline":"alphabetic","color":"#000"},"encoding":{"x":{"datum":24.21,"type":"quantitative"},"y":{"datum":30.05,"type":"quantitative"}}},
{"data":{"values":[{"name":"Mean x"}]},"mark":{"type":"text","text":"16.75","font":"Liberation Serif","fontSize":32,"align":"right","baseline":"alphabetic","color":"#000"},"encoding":{"x":{"datum":32,"type":"quantitative"},"y":{"datum":30.05,"type":"quantitative"}}},
{"data":{"values":[{"name":"Mean y"}]},"mark":{"type":"text","text":"Mean y","font":"Liberation Serif","fontSize":34,"align":"left","baseline":"alphabetic","color":"#000"},"encoding":{"x":{"datum":24.21,"type":"quantitative"},"y":{"datum":28.62,"type":"quantitative"}}},
{"data":{"values":[{"name":"Mean y"}]},"mark":{"type":"text","text":"16.24","font":"Liberation Serif","fontSize":32,"align":"right","baseline":"alphabetic","color":"#000"},"encoding":{"x":{"datum":32,"type":"quantitative"},"y":{"datum":28.44,"type":"quantitative"}}},
{"data":{"values":[{"name":"Std Dev x"}]},"mark":{"type":"text","text":"Std Dev x","font":"Liberation Serif","fontSize":34,"align":"left","baseline":"alphabetic","color":"#000"},"encoding":{"x":{"datum":24.21,"type":"quantitative"},"y":{"datum":26.9,"type":"quantitative"}}},
{"data":{"values":[{"name":"Std Dev x"}]},"mark":{"type":"text","text":"7.455","font":"Liberation Serif","fontSize":32,"align":"right","baseline":"alphabetic","color":"#000"},"encoding":{"x":{"datum":32,"type":"quantitative"},"y":{"datum":26.9,"type":"quantitative"}}},
{"data":{"values":[{"name":"Std Dev y"}]},"mark":{"type":"text","text":"Std Dev y","font":"Liberation Serif","fontSize":34,"align":"left","baseline":"alphabetic","color":"#000"},"encoding":{"x":{"datum":24.21,"type":"quantitative"},"y":{"datum":25.41,"type":"quantitative"}}},
{"data":{"values":[{"name":"Std Dev y"}]},"mark":{"type":"text","text":"7.593","font":"Liberation Serif","fontSize":32,"align":"right","baseline":"alphabetic","color":"#000"},"encoding":{"x":{"datum":32,"type":"quantitative"},"y":{"datum":25.27,"type":"quantitative"}}}
],
"resolve":{"axis":{"x":"independent","y":"independent"}}}
